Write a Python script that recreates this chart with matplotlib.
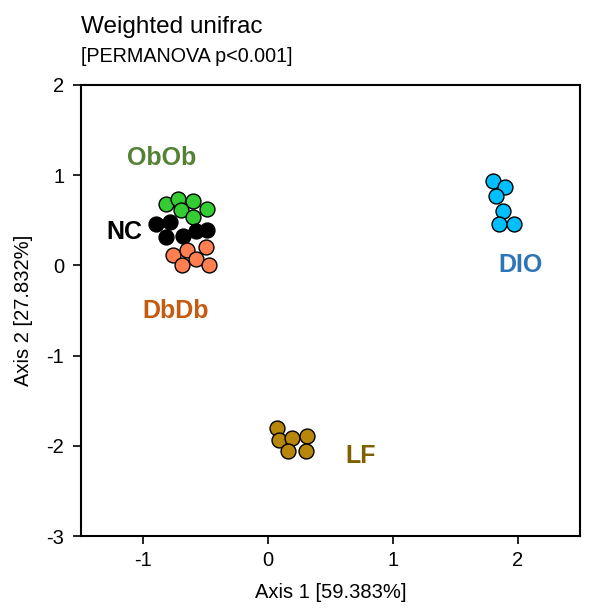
import matplotlib
matplotlib.use("Agg")
import matplotlib.pyplot as plt

plt.rcParams['font.family'] = ['Liberation Sans', 'DejaVu Sans']
plt.rcParams['axes.unicode_minus'] = False

# PCoA coordinates (Axis 1, Axis 2)
groups = ["ObOb", "NC", "DbDb", "DIO", "LF"]
obob_x = [-0.82, -0.72, -0.60, -0.49, -0.70, -0.60]
obob_y = [0.68, 0.74, 0.71, 0.62, 0.61, 0.54]
nc_x = [-0.90, -0.79, -0.82, -0.68, -0.58, -0.49]
nc_y = [0.46, 0.48, 0.31, 0.33, 0.38, 0.39]
dbdb_x = [-0.76, -0.65, -0.50, -0.58, -0.69, -0.47]
dbdb_y = [0.11, 0.17, 0.20, 0.07, 0.00, 0.00]
dio_x = [1.80, 1.90, 1.83, 1.88, 1.85, 1.97]
dio_y = [0.94, 0.87, 0.77, 0.60, 0.46, 0.46]
lf_x = [0.07, 0.09, 0.19, 0.31, 0.16, 0.30]
lf_y = [-1.80, -1.94, -1.91, -1.89, -2.06, -2.06]

point_colors = ["#33CC33", "#000000", "#FF7F50", "#00BFFF", "#B8860B"]
label_colors = ["#548235", "#000000", "#C55A11", "#2E75B6", "#7F6000"]
label_pos = [(-0.85, 1.19), (-1.155, 0.37), (-0.744, -0.50), (2.025, 0.0), (0.744, -2.11)]

xs = [obob_x, nc_x, dbdb_x, dio_x, lf_x]
ys = [obob_y, nc_y, dbdb_y, dio_y, lf_y]

fig = plt.figure(figsize=(5.92, 6.16), dpi=100)
ax = fig.add_axes([81 / 592, 1 - 536 / 616, 499 / 592, 451 / 616])

for i in range(len(groups)):
    ax.scatter(xs[i], ys[i], s=115, c=point_colors[i], edgecolors="black",
               linewidths=1, zorder=3)
    ax.text(label_pos[i][0], label_pos[i][1], groups[i], color=label_colors[i],
            fontsize=18, fontweight="bold", ha="center", va="center")

ax.set_xlim(-1.5, 2.5)
ax.set_ylim(-3, 2)
ax.set_xticks([-1, 0, 1, 2])
ax.set_yticks([-3, -2, -1, 0, 1, 2])
ax.tick_params(direction="out", length=6, width=1.2, labelsize=14.5, colors="black")
ax.tick_params(axis="x", pad=5)
ax.tick_params(axis="y", pad=6)
for sp in ax.spines.values():
    sp.set_linewidth(1.5)
ax.set_xlabel("Axis 1 [59.383%]", fontsize=14.5, labelpad=9)
ax.set_ylabel("Axis 2 [27.832%]", fontsize=14.5, labelpad=10)

fig.text(81 / 592, 1 - 33 / 616, "Weighted unifrac", fontsize=17.5, ha="left", va="baseline")
fig.text(81 / 592, 1 - 62 / 616, "[PERMANOVA p<0.001]", fontsize=14.2, ha="left", va="baseline")

fig.savefig("out.png", dpi=100)
